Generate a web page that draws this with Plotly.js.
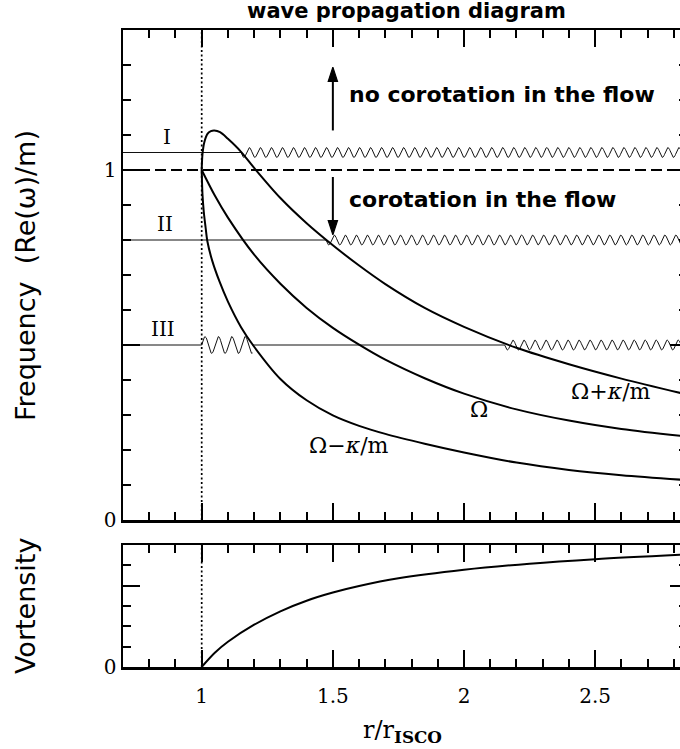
<!DOCTYPE html>
<html>
<head>
<meta charset="utf-8">
<script src="https://cdn.plot.ly/plotly-3.0.1.min.js"></script>
<style>
  html, body { margin: 0; padding: 0; background: #fff; overflow: hidden; }
  #chart { width: 690px; height: 749px; }
</style>
</head>
<body>
<div id="chart"></div>
<script>
// Radius in units of r_ISCO for each curve, with the curve values
const rOmegaPlus  = [1.0, 1.003, 1.01, 1.022, 1.035, 1.048, 1.07, 1.1, 1.15, 1.2, 1.3, 1.4, 1.5, 1.6, 1.7, 1.85, 2.0, 2.2, 2.4, 2.6, 2.83];
const omegaPlus   = [1.0, 1.045, 1.079, 1.103, 1.111, 1.113, 1.108, 1.089, 1.052, 1.006, 0.920, 0.848, 0.785, 0.727, 0.674, 0.606, 0.552, 0.492, 0.445, 0.404, 0.362];

const rOmega      = [1.0, 1.05, 1.1, 1.2, 1.3, 1.4, 1.5, 1.6, 1.7, 1.85, 2.0, 2.2, 2.4, 2.6, 2.83];
const omega       = [1.0, 0.927, 0.864, 0.758, 0.675, 0.606, 0.549, 0.501, 0.458, 0.405, 0.361, 0.316, 0.284, 0.260, 0.240];

const rOmegaMinus = [1.0, 1.003, 1.008, 1.015, 1.022, 1.04, 1.067, 1.1, 1.15, 1.2, 1.3, 1.4, 1.5, 1.6, 1.7, 1.85, 2.0, 2.2, 2.4, 2.6, 2.83];
const omegaMinus  = [1.0, 0.93, 0.88, 0.835, 0.795, 0.741, 0.683, 0.624, 0.551, 0.495, 0.403, 0.342, 0.299, 0.269, 0.246, 0.218, 0.193, 0.164, 0.143, 0.128, 0.115];

// Vortensity profile
const rVort = [1.0, 1.05, 1.1, 1.2, 1.3, 1.4, 1.5, 1.6, 1.75, 2.0, 2.25, 2.5, 2.83];
const vort  = [0.0, 0.035, 0.062, 0.104, 0.137, 0.163, 0.183, 0.199, 0.218, 0.239, 0.254, 0.265, 0.276];

// Wave frequencies I, II, III and where each one is evanescent / propagating
const modeNames  = ['I', 'II', 'III'];
const modeFreq   = [1.05, 0.80, 0.50];
const flatLevel  = [1.05, 0.80, 0.50, 0.50];
const flatFrom   = [0.7, 0.7, 0.7, 1.194];
const flatTo     = [1.15, 1.474, 1.0, 2.155];
const waveLevel  = [1.05, 0.80, 0.50, 0.50];
const waveFrom   = [1.15, 1.474, 1.0, 2.155];
const waveTo     = [2.85, 2.85, 1.194, 2.85];
const waveInner  = [false, false, true, false];

// Arrows pointing away from / towards corotation
const arrowX    = [1.5, 1.5];
const arrowTail = [1.113, 0.98];
const arrowTip  = [1.294, 0.815];

// Axis ticks
const freqLabelTicks = [0, 1];
const freqLabels     = ['0', '1'];
const freqMidTicks   = [0.5];
const vortLabelTicks = [0];
const vortLabels     = ['0'];
const vortMidTicks   = [0.2];

const rIsco = 1.0;
const corotation = 1.0;
const xRange = [0.7, 2.85];
const yTopRange = [0, 1.4];
const yBotRange = [0, 0.3];

const traces = [];
const thin = {color: '#111', width: 1};
const bold = {color: '#000', width: 2};
const smooth = (o) => Object.assign({shape: 'spline', smoothing: 0.9}, o);

// straight parts of the mode lines
for (let i = 0; i < flatLevel.length; i++) {
  traces.push({x: [flatFrom[i], flatTo[i]], y: [flatLevel[i], flatLevel[i]], mode: 'lines', line: thin, xaxis: 'x', yaxis: 'y'});
}
// wavy parts: a squiggle drawn along each propagation zone
for (let i = 0; i < waveLevel.length; i++) {
  const lam = waveInner[i] ? 0.051 : 0.042;
  const amp = waveInner[i] ? 0.024 : 0.014;
  const sgn = waveInner[i] ? 1 : -1;
  const x0 = waveFrom[i], x1 = waveTo[i];
  const n = Math.ceil((x1 - x0) / lam * 24);
  const xs = [], ys = [];
  for (let k = 0; k <= n; k++) {
    const x = x0 + (x1 - x0) * k / n;
    xs.push(x);
    ys.push(waveLevel[i] + sgn * amp * Math.sin(2 * Math.PI * (x - x0) / lam));
  }
  traces.push({x: xs, y: ys, mode: 'lines', line: thin, xaxis: 'x', yaxis: 'y'});
}

// corotation level and ISCO marker
traces.push({x: xRange, y: [corotation, corotation], mode: 'lines', line: {color: '#000', width: 2, dash: '11px,5px'}, xaxis: 'x', yaxis: 'y'});
traces.push({x: [rIsco, rIsco], y: yTopRange, mode: 'lines', line: {color: '#000', width: 1.7, dash: '2px,2.5px'}, xaxis: 'x', yaxis: 'y'});
traces.push({x: [rIsco, rIsco], y: yBotRange, mode: 'lines', line: {color: '#000', width: 1.7, dash: '2px,2.5px'}, xaxis: 'x2', yaxis: 'y2'});

// arrows: shaft plus an arrow marker oriented along the shaft
for (let i = 0; i < arrowX.length; i++) {
  traces.push({x: [arrowX[i], arrowX[i]], y: [arrowTail[i], arrowTip[i]], mode: 'lines+markers',
    line: {color: '#000', width: 2},
    marker: {symbol: ['circle', 'arrow'], size: [0, 15], angleref: 'previous', color: '#000', opacity: 1, line: {width: 1.2, color: '#000'}},
    xaxis: 'x', yaxis: 'y'});
}

// frequency curves
traces.push({x: rOmegaPlus, y: omegaPlus, mode: 'lines', line: smooth(bold), xaxis: 'x', yaxis: 'y'});
traces.push({x: rOmega, y: omega, mode: 'lines', line: smooth(bold), xaxis: 'x', yaxis: 'y'});
traces.push({x: rOmegaMinus, y: omegaMinus, mode: 'lines', line: smooth(bold), xaxis: 'x', yaxis: 'y'});

// vortensity
traces.push({x: rVort, y: vort, mode: 'lines', line: smooth(bold), xaxis: 'x2', yaxis: 'y2'});

// empty traces that register the unlabelled major-tick axes
traces.push({x: [], y: [], mode: 'lines', xaxis: 'x', yaxis: 'y3'});
traces.push({x: [], y: [], mode: 'lines', xaxis: 'x2', yaxis: 'y4'});

const tickCommon = {
  showline: true, linecolor: '#000', linewidth: 2.5, mirror: 'ticks',
  ticks: 'inside', ticklen: 17, tickwidth: 2, tickcolor: '#000',
  showgrid: false, zeroline: false,
  tickfont: {family: 'DejaVu Serif', size: 20, color: '#000'}
};
const minorTicks = (d) => ({dtick: d, ticks: 'inside', ticklen: 8, tickwidth: 2, tickcolor: '#000', showgrid: false});

const serif = 'DejaVu Serif';
const sans = 'DejaVu Sans';
const ann = [];
const P = (px) => (px - 123) / 564;         // horizontal page position
const Q = (py) => (667 - py) / 637;         // vertical page position

ann.push({xref: 'paper', yref: 'paper', x: P(406), y: Q(11), text: '<b>wave propagation diagram</b>', showarrow: false, xanchor: 'center', yanchor: 'middle', font: {family: sans, size: 21, color: '#000'}});
ann.push({xref: 'paper', yref: 'paper', x: P(25), y: Q(276), text: 'Frequency  (Re(ω)/m)', textangle: -90, showarrow: false, xanchor: 'center', yanchor: 'middle', font: {family: sans, size: 27, color: '#000'}});
ann.push({xref: 'paper', yref: 'paper', x: P(25), y: Q(606), text: 'Vortensity', textangle: -90, showarrow: false, xanchor: 'center', yanchor: 'middle', font: {family: sans, size: 27, color: '#000'}});
ann.push({xref: 'paper', yref: 'paper', x: P(402), y: Q(731), text: 'r/r<sub><b>ISCO</b></sub>', showarrow: false, xanchor: 'center', yanchor: 'middle', font: {family: serif, size: 24, color: '#000'}});

// region notes
ann.push({xref: 'x', yref: 'y', x: 1.553, y: 1.216, text: '<b>no corotation in the flow</b>', showarrow: false, xanchor: 'left', yanchor: 'middle', font: {family: sans, size: 22, color: '#000'}});
ann.push({xref: 'x', yref: 'y', x: 1.553, y: 0.916, text: '<b>corotation in the flow</b>', showarrow: false, xanchor: 'left', yanchor: 'middle', font: {family: sans, size: 22, color: '#000'}});

// mode labels
const modeLabelX = [0.868, 0.860, 0.854];
for (let i = 0; i < modeNames.length; i++) {
  ann.push({xref: 'x', yref: 'y', x: modeLabelX[i], y: modeFreq[i] + 0.045, text: modeNames[i], showarrow: false, xanchor: 'center', yanchor: 'middle', font: {family: serif, size: 20, color: '#000'}});
}
// curve labels
ann.push({xref: 'x', yref: 'y', x: 2.562, y: 0.367, text: 'Ω+<i>κ</i>/m', showarrow: false, font: {family: serif, size: 22, color: '#000'}});
ann.push({xref: 'x', yref: 'y', x: 2.057, y: 0.317, text: 'Ω', showarrow: false, font: {family: serif, size: 22, color: '#000'}});
ann.push({xref: 'x', yref: 'y', x: 1.560, y: 0.214, text: 'Ω−<i>κ</i>/m', showarrow: false, font: {family: serif, size: 22, color: '#000'}});

const topDomain = [(667 - 520) / 637, 1];
const botDomain = [0, (667 - 545) / 637];
const midTickAxis = {
  showline: false, showgrid: false, zeroline: false, showticklabels: false,
  ticks: 'inside', ticklen: 17, tickwidth: 2, tickcolor: '#000', mirror: 'ticks'
};

const layout = {
  width: 690, height: 749,
  margin: {l: 123, r: 3, t: 30, b: 82},
  paper_bgcolor: '#fff', plot_bgcolor: '#fff',
  showlegend: false,
  xaxis: Object.assign({}, tickCommon, {domain: [0, 1], anchor: 'y', range: xRange, dtick: 0.5, tick0: 0, showticklabels: false, minor: minorTicks(0.1)}),
  yaxis: Object.assign({}, tickCommon, {domain: topDomain, anchor: 'x', range: yTopRange, tickvals: freqLabelTicks, ticktext: freqLabels, minor: minorTicks(0.1)}),
  yaxis3: Object.assign({}, midTickAxis, {overlaying: 'y', anchor: 'x', side: 'left', range: yTopRange, tickvals: freqMidTicks}),
  xaxis2: Object.assign({}, tickCommon, {domain: [0, 1], anchor: 'y2', matches: 'x', range: xRange, dtick: 0.5, tick0: 0, ticklabelstandoff: 9, minor: minorTicks(0.1)}),
  yaxis2: Object.assign({}, tickCommon, {domain: botDomain, anchor: 'x2', range: yBotRange, tickvals: vortLabelTicks, ticktext: vortLabels, minor: minorTicks(0.05)}),
  yaxis4: Object.assign({}, midTickAxis, {overlaying: 'y2', anchor: 'x2', side: 'left', range: yBotRange, tickvals: vortMidTicks}),
  annotations: ann
};

Plotly.newPlot('chart', traces, layout, {staticPlot: true, displayModeBar: false});
</script>
</body>
</html>
